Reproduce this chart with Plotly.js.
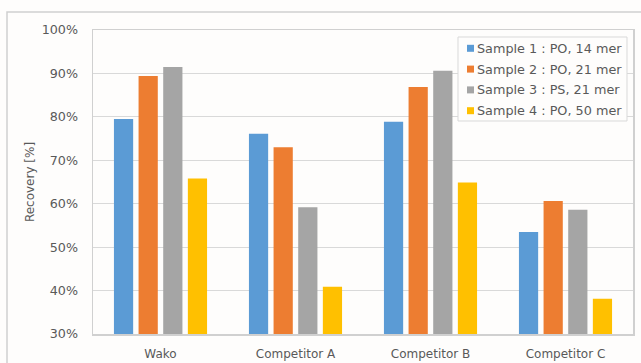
<!DOCTYPE html>
<html>
<head>
<meta charset="utf-8">
<script src="https://cdn.plot.ly/plotly-3.0.1.min.js"></script>
<style>html,body{margin:0;padding:0;background:#fefdfc;}#chart{width:641px;height:363px;}</style>
</head>
<body>
<div id="chart"></div>
<script>
const categories = ["Wako", "Competitor A", "Competitor B", "Competitor C"];
const seriesNames = ["Sample 1 : PO, 14 mer", "Sample 2 : PO, 21 mer", "Sample 3 : PS, 21 mer", "Sample 4 : PO, 50 mer"];
const sample1 = [79.5, 76.1, 78.9, 53.5];
const sample2 = [89.4, 73.0, 86.9, 60.6];
const sample3 = [91.5, 59.2, 90.6, 58.6];
const sample4 = [65.8, 40.9, 64.9, 38.1];
const colors = ["#5B9BD5", "#ED7D31", "#A5A5A5", "#FFC000"];

const values = [sample1, sample2, sample3, sample4];
const traces = values.map((v, i) => ({
  type: "bar",
  name: seriesNames[i],
  x: categories,
  y: v,
  marker: {color: colors[i], line: {width: 0}},
  hoverinfo: "none"
}));

// plot area in pixels (for placing the legend box)
const M = {l: 93, r: 8, t: 30, b: 29};
const PW = 641 - M.l - M.r, PH = 363 - M.t - M.b;
const px = x => (x - M.l) / PW;
const py = y => (363 - M.b - y) / PH;

const shapes = [{
  type: "rect", xref: "paper", yref: "paper",
  x0: px(7), x1: 1.2, y0: -0.5, y1: py(12),
  line: {color: "#d0d0d0", width: 1.5}, fillcolor: "rgba(0,0,0,0)", layer: "below"
}, {
  type: "rect", xref: "paper", yref: "paper",
  x0: px(458), x1: px(627), y0: py(121), y1: py(37),
  line: {color: "#d9d9d9", width: 1}, fillcolor: "#fefdfc", layer: "above"
}];
const annotations = [];
seriesNames.forEach((name, i) => {
  const cy = 48.3 + i * 20.8;
  shapes.push({
    type: "rect", xref: "paper", yref: "paper",
    x0: px(467), x1: px(474), y0: py(cy + 3.5), y1: py(cy - 3.5),
    line: {width: 0}, fillcolor: colors[i], layer: "above"
  });
  annotations.push({
    xref: "paper", yref: "paper", x: px(475), y: py(cy),
    xanchor: "left", yanchor: "middle", showarrow: false,
    text: name, font: {size: 12.8, color: "#595959"}
  });
});

const layout = {
  width: 641, height: 363,
  margin: M,
  paper_bgcolor: "#fefdfc",
  plot_bgcolor: "#fefdfc",
  font: {family: "DejaVu Sans, Verdana, sans-serif", size: 12, color: "#595959"},
  barmode: "group",
  bargap: 0.27,
  bargroupgap: 0.22,
  showlegend: false,
  xaxis: {
    showgrid: false, showline: true, linecolor: "#d0d0d0", linewidth: 1.5, mirror: true,
    ticks: "", ticklabelstandoff: 8, tickfont: {size: 12, color: "#595959"},
    fixedrange: true
  },
  yaxis: {
    range: [30, 100], dtick: 10, ticksuffix: "%",
    showgrid: true, gridcolor: "#d9d9d9", gridwidth: 1,
    showline: true, linecolor: "#d0d0d0", linewidth: 1.5, mirror: true,
    zeroline: false, ticks: "", ticklabelstandoff: 11,
    tickfont: {size: 12.7, color: "#595959"},
    title: {text: "Recovery [%]", font: {size: 12, color: "#595959"}, standoff: 4},
    automargin: false, fixedrange: true
  },
  shapes: shapes,
  annotations: annotations
};

Plotly.newPlot("chart", traces, layout, {staticPlot: true, displayModeBar: false});
</script>
</body>
</html>
